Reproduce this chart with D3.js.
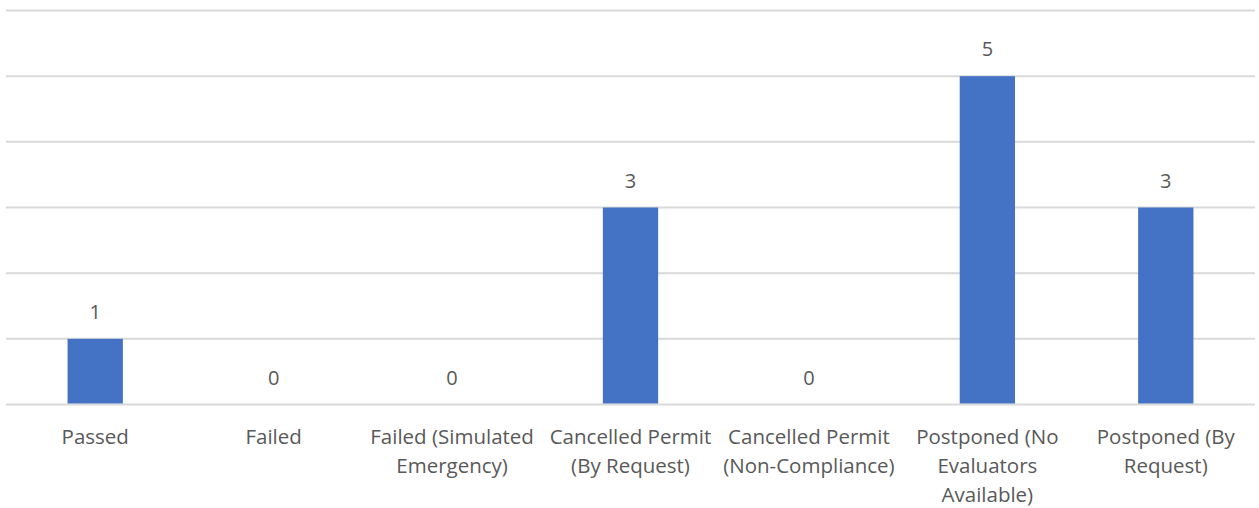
<!DOCTYPE html>
<html>
<head>
<meta charset="utf-8">
<script src="https://cdn.jsdelivr.net/npm/d3@7"></script>
<style>
  body { margin: 0; background: #fff; }
  text { font-family: "Open Sans", "Noto Sans", sans-serif; fill: #595959; }
</style>
</head>
<body>
<svg id="chart" width="1259" height="508"></svg>
<script>
const categories = [
    "Passed",
    "Failed",
    "Failed (Simulated Emergency)",
    "Cancelled Permit (By Request)",
    "Cancelled Permit (Non-Compliance)",
    "Postponed (No Evaluators Available)",
    "Postponed (By Request)"
];
const labelLines = [
    ["Passed"],
    ["Failed"],
    ["Failed (Simulated", "Emergency)"],
    ["Cancelled Permit", "(By Request)"],
    ["Cancelled Permit", "(Non-Compliance)"],
    ["Postponed (No", "Evaluators", "Available)"],
    ["Postponed (By", "Request)"]
];
const values = [1, 0, 0, 3, 0, 5, 3];
const yTicks = [0, 1, 2, 3, 4, 5, 6];

const svg = d3.select("#chart");
const x = d3.scaleBand().domain(categories).range([6, 1255]).padding(0);
const y = d3.scaleLinear().domain([0, 6]).range([404.5, 10.5]);
const barW = x.bandwidth() * 0.31;

// gridlines
svg.append("g")
    .selectAll("line")
    .data(yTicks)
    .join("line")
    .attr("x1", 6)
    .attr("x2", 1255)
    .attr("y1", d => y(d))
    .attr("y2", d => y(d))
    .attr("stroke", "#d9d9d9")
    .attr("stroke-width", 2);

// bars
svg.append("g")
    .selectAll("rect")
    .data(values)
    .join("rect")
    .attr("x", (d, i) => x(categories[i]) + x.bandwidth() / 2 - barW / 2)
    .attr("width", barW)
    .attr("y", d => y(d))
    .attr("height", d => y(0) - y(d) - 1)
    .attr("fill", "#4472C4");

// data labels
svg.append("g")
    .selectAll("text")
    .data(values)
    .join("text")
    .attr("x", (d, i) => x(categories[i]) + x.bandwidth() / 2)
    .attr("y", d => y(d) - 20)
    .attr("text-anchor", "middle")
    .style("font-size", "20px")
    .text(d => d);

// category labels
const cat = svg.append("g")
    .selectAll("text")
    .data(categories)
    .join("text")
    .attr("x", d => x(d) + x.bandwidth() / 2)
    .attr("y", 444)
    .attr("text-anchor", "middle")
    .style("font-size", "20.5px");

cat.each(function (d, i) {
    d3.select(this).selectAll("tspan")
        .data(labelLines[i])
        .join("tspan")
        .attr("x", x(d) + x.bandwidth() / 2)
        .attr("dy", (l, j) => j === 0 ? 0 : 29)
        .text(l => l);
});
</script>
</body>
</html>
